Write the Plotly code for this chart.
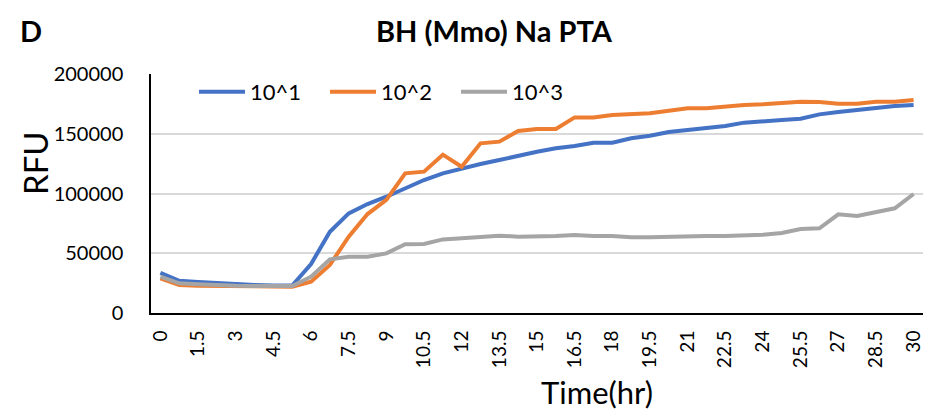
import plotly.graph_objects as go

time_hr = [round(i * 0.75, 2) for i in range(41)]

s10_1 = [33500, 27000, 26000, 25000, 24000, 23500, 23000, 23000, 41000, 68000,
         83400, 91200, 97300, 104300, 111300, 116800, 121000, 124700, 128000, 131600,
         135000, 137800, 139700, 142500, 142500, 146200, 148400, 151500, 153100, 155100,
         156500, 159300, 160100, 161500, 162600, 166200, 168200, 169900, 171800, 173200,
         174000]
s10_2 = [29000, 23400, 22800, 22500, 22200, 22000, 22000, 22000, 26200, 40200,
         63900, 82800, 94600, 116900, 118300, 132500, 122400, 142000, 143400, 152300,
         154000, 154000, 163700, 163700, 165700, 166200, 167100, 169200, 171300, 171300,
         172900, 174000, 174600, 175500, 176800, 176500, 175100, 175100, 176800, 176800,
         178200]
s10_3 = [30400, 24800, 24000, 23200, 22800, 22600, 22500, 22500, 30400, 44900,
         47100, 47100, 49900, 57500, 57800, 61600, 62500, 63300, 64700, 63900,
         63900, 64400, 65300, 64400, 64400, 63300, 63300, 63900, 64100, 64400,
         64400, 64700, 65500, 66900, 70300, 70900, 82600, 81200, 84800, 87600,
         99600]

series = [("10^1", s10_1, "#4472C4"), ("10^2", s10_2, "#ED7D31"), ("10^3", s10_3, "#A5A5A5")]

tick_vals = [i * 1.5 for i in range(21)]
tick_text = [("%g" % v) for v in tick_vals]
y_ticks = [0, 50000, 100000, 150000, 200000]

FONT = "Lato"
W, H = 941, 416
L, R, T, B = 151, 18, 74, 103
pw, ph = W - L - R, H - T - B
def px(x): return (x - L) / pw
def py(y): return (H - B - y) / ph

fig = go.Figure()
for name, ys, col in series:
    fig.add_trace(go.Scatter(x=time_hr, y=ys, name=name, mode="lines",
                             line=dict(color=col, width=4)))

fig.update_layout(
    width=W, height=H,
    margin=dict(l=L, r=R, t=T, b=B, autoexpand=False),
    paper_bgcolor="white", plot_bgcolor="white",
    font=dict(family=FONT, color="black"),
    showlegend=True,
    legend=dict(orientation="h", x=px(194), y=py(92), xanchor="left", yanchor="middle",
                font=dict(size=22, family=FONT), entrywidth=70, entrywidthmode="pixels",
                bgcolor="rgba(0,0,0,0)", itemwidth=46),
    annotations=[
        dict(text="<b>BH (Mmo) Na PTA</b>", x=px(494), y=py(31), xref="paper", yref="paper",
             xanchor="center", yanchor="middle", showarrow=False,
             font=dict(size=29, family=FONT)),
        dict(text="<b>D</b>", x=px(31), y=py(31), xref="paper", yref="paper",
             xanchor="center", yanchor="middle", showarrow=False,
             font=dict(size=29, family=FONT)),
        dict(text="RFU", x=px(35), y=py(163), xref="paper", yref="paper",
             xanchor="center", yanchor="middle", showarrow=False, textangle=-90,
             font=dict(size=33, family=FONT)),
        dict(text="Time(hr)", x=px(597), y=py(392), xref="paper", yref="paper",
             xanchor="center", yanchor="middle", showarrow=False,
             font=dict(size=31, family=FONT)),
    ],
)

fig.update_xaxes(range=[-0.375, 30.375], tickmode="array", tickvals=tick_vals, ticktext=tick_text,
                 tickangle=-90, tickfont=dict(size=19, family=FONT), showgrid=False,
                 showline=True, linecolor="black", linewidth=2, zeroline=False,
                 ticks="outside", ticklen=8, tickcolor="rgba(0,0,0,0)", automargin=False)
fig.update_yaxes(range=[0, 200000], tickmode="array", tickvals=y_ticks,
                 ticktext=[str(v) for v in y_ticks], tickfont=dict(size=20, family=FONT),
                 showgrid=True, gridcolor="#D9D9D9", gridwidth=1.5,
                 showline=True, linecolor="black", linewidth=1.5, zeroline=False,
                 ticks="outside", ticklen=22, tickcolor="rgba(0,0,0,0)", automargin=False)

fig.write_html("out.html", config={"displayModeBar": False},
               post_script="document.body.style.margin='0';document.body.style.overflow='hidden';")
